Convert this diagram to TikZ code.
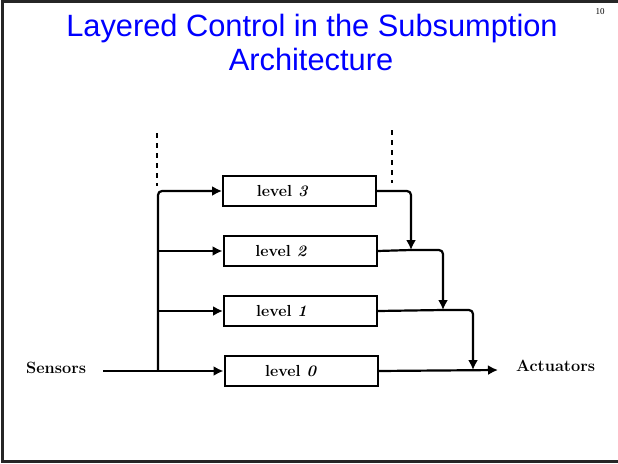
\documentclass[tikz,border=0pt]{standalone}
\usepackage{fontspec}
\newfontfamily\titlefont{Liberation Sans}
\newfontfamily\numfont{Liberation Serif}
\usetikzlibrary{arrows.meta,calc}
\definecolor{titleblue}{RGB}{0,0,255}
\tikzset{
  frame/.style={line width=3pt, black!85},
  lvlbox/.style={draw, line width=2pt, minimum width=153pt, minimum height=30pt, inner sep=0pt},
  lvltext/.style={font=\fontsize{16}{18}\selectfont\bfseries, inner sep=0pt},
  side/.style={font=\fontsize{16.3}{19}\selectfont\bfseries, inner sep=0pt, anchor=base west},
  wire/.style={line width=2.2pt, rounded corners=4pt},
  arr/.style={wire, -{Latex[length=10pt,width=10pt]}},
  dashline/.style={line width=1.6pt, dash pattern=on 5pt off 5pt},
  ttl/.style={font=\titlefont\fontsize{30.8}{34}\selectfont, text=titleblue, anchor=base, inner sep=0pt}
}
\begin{document}
\begin{tikzpicture}[x=1pt,y=-1pt]
\useasboundingbox (0,0) rectangle (618,463);
% frame
\draw[frame] (618,1.5) -- (2.5,1.5) -- (2.5,461.5) -- (618,461.5);
% title
\node[ttl] (t1) at (312,36) {Layered Control in the Subsumption};
\node[ttl] (t2) at (311,70) {Architecture};
\node[font=\numfont\fontsize{9}{10}\selectfont, inner sep=0pt] (pg) at (600,12) {10};
% boxes
\node[lvlbox] (b3) at (299.5,191) {};
\node[lvlbox] (b2) at (300,251) {};
\node[lvlbox] (b1) at (300.5,311) {};
\node[lvlbox] (b0) at (301,371) {};
\node[lvltext] (t3) at ($(b3.center)+(-17,0)$) {level \textit{3}};
\node[lvltext] (t2l) at ($(b2.center)+(-19,0)$) {level \textit{2}};
\node[lvltext] (t1l) at ($(b1.center)+(-19,0)$) {level \textit{1}};
\node[lvltext] (t0l) at ($(b0.center)+(-10,0)$) {level \textit{0}};
% side labels
\node[side] (sens) at (26,373) {Sensors};
\node[side] (act) at (516,371) {Actuators};
% coordinates
\coordinate (s0) at (103,371);
\coordinate (v) at (158,371);
\coordinate (j2) at (411,250);
\coordinate (j1) at (443,310);
\coordinate (j0) at (473,370);
\coordinate (out) at (498,370);
% left wires
\draw[wire] (s0) -- (v);
\draw[arr] (v) -- (b0.west);
\draw[arr] (v) |- (b3.west);
\draw[arr] (158,251) -- (b2.west);
\draw[arr] (158,311) -- (b1.west);
% right wires
\draw[arr] (b3.east) -| (j2);
\draw[wire] (b2.east) -- (j2);
\draw[arr] (j2) -| (j1);
\draw[wire] (b1.east) -- (j1);
\draw[arr] (j1) -| (j0);
\draw[arr] (b0.east) -- (out);
% dashed lines
\draw[dashline] (157,133) -- (157,186);
\draw[dashline] (392,130) -- (392,183);
\end{tikzpicture}
\end{document}
